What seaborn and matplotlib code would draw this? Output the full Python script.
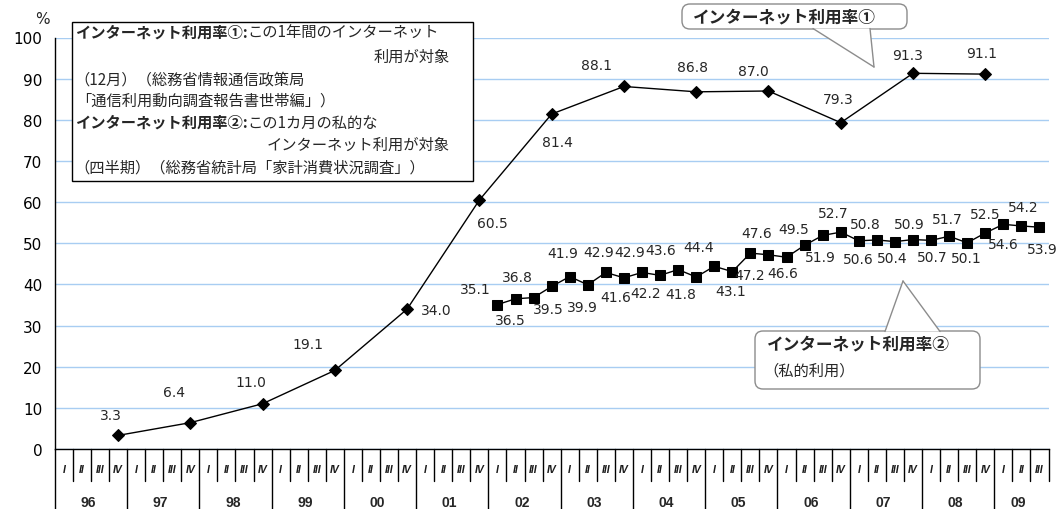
import matplotlib
matplotlib.use("Agg")
import matplotlib.pyplot as plt
import matplotlib.transforms as mtransforms
from matplotlib.patches import FancyBboxPatch, Polygon, Rectangle
import pandas as pd
import seaborn as sns

# データ
years = ["96", "97", "98", "99", "00", "01", "02", "03", "04", "05", "06", "07", "08", "09"]
quarters = ["I", "II", "III", "IV"]
# 利用率① (12月, 96〜08年)
rate1_values = [3.3, 6.4, 11.0, 19.1, 34.0, 60.5, 81.4, 88.1, 86.8, 87.0, 79.3, 91.3, 91.1]
# 利用率② (四半期, 02年I〜09年III)
rate2_values = [35.1, 36.5, 36.8, 39.5, 41.9, 39.9, 42.9, 41.6, 42.9, 42.2, 43.6, 41.8,
                44.4, 43.1, 47.6, 47.2, 46.6, 49.5, 51.9, 52.7, 50.6, 50.8, 50.4, 50.9,
                50.7, 51.7, 50.1, 52.5, 54.6, 54.2, 53.9]

periods = [f"{y}-{q}" for y in years for q in quarters][:55]

df1 = pd.DataFrame({"pos": [periods.index(f"{y}-IV") for y in years[:-1]],
                    "rate": rate1_values})
start2 = periods.index("02-I")
df2 = pd.DataFrame({"pos": list(range(start2, start2 + len(rate2_values))),
                    "rate": rate2_values})

# ラベル位置のずれ (ピクセル, 下向き正)
off1 = [(-7, -20), (-16, -31), (-12, -22), (-27, -26), (29, 1), (13, 23), (6, 28),
        (-27, -21), (-4, -25), (-15, -20), (-2, -24), (-5, -18), (-4, -21)]
off2 = [(-22, -16), (-5, 21), (-16, -21), (-3, 23), (-7, -24), (-5, 22), (-7, -20),
        (-8, 19), (-12, -20), (-14, 18), (-17, -20), (-15, 17), (-16, -19), (-2, 19),
        (6, -20), (-19, 20), (-4, 16), (-11, -16), (-2, 22), (-7, -19), (0, 18),
        (-12, -16), (-3, 16), (-4, -16), (1, 17), (-2, -17), (-1, 15), (0, -19),
        (0, 20), (2, -19), (3, 22)]

sns.set_style("white")
plt.rcParams["font.family"] = ["DejaVu Sans"]
JP = ["Noto Sans CJK JP", "DejaVu Sans"]

W, H = 1062, 510
fig = plt.figure(figsize=(W / 100, H / 100), dpi=100)
ax = fig.add_axes([54.8 / W, 1 - 450 / H, (1048.5 - 54.8) / W, (450 - 38.5) / H])

# ピクセル座標 (左上原点)
px = mtransforms.Affine2D().scale(1 / W, -1 / H).translate(0, 1) + fig.transFigure
xpx = mtransforms.blended_transform_factory(ax.transData, px)

ax.set_xlim(-0.5, 54.5)
ax.set_ylim(0, 100)
ax.set_yticks(range(0, 101, 10))
ax.set_xticks([])
ax.grid(axis="y", color="#a8cdf2", lw=1, zorder=0)
ax.set_axisbelow(True)
for s in ["top", "right"]:
    ax.spines[s].set_visible(False)
for s in ["left", "bottom"]:
    ax.spines[s].set_color("black")
    ax.spines[s].set_linewidth(1)
ax.tick_params(axis="y", direction="out", length=6, width=1, labelsize=11, pad=3,
               colors="black")

sns.lineplot(data=df1, x="pos", y="rate", ax=ax, color="black", lw=1,
             marker="D", markersize=6, markeredgecolor="black", zorder=3)
sns.lineplot(data=df2, x="pos", y="rate", ax=ax, color="black", lw=1,
             marker="s", markersize=6.5, markeredgecolor="black", zorder=3)
ax.set_xlabel("")
ax.set_ylabel("")

for (x, v), (dx, dy) in zip(zip(df1["pos"], df1["rate"]), off1):
    ax.annotate(f"{v:.1f}", xy=(x, v), xytext=(dx, -dy), textcoords="offset pixels",
                ha="center", va="center", fontsize=10)
for (x, v), (dx, dy) in zip(zip(df2["pos"], df2["rate"]), off2):
    ax.annotate(f"{v:.1f}", xy=(x, v), xytext=(dx, -dy), textcoords="offset pixels",
                ha="center", va="center", fontsize=10)

# 横軸の区分 (四半期 / 年)
for k in range(len(periods) + 1):
    b = k - 0.5
    y_end = 510 if k % 4 == 0 and k < len(periods) else 482
    ax.plot([b, b], [450, y_end], transform=xpx, color="black", lw=1, clip_on=False)
for k, p in enumerate(periods):
    ax.text(k, 470, p.split("-")[1], transform=xpx, ha="center", va="center",
            fontsize=7.5, fontweight="bold", fontstyle="italic",
            family="Liberation Sans", color="#1a1a1a")
for y in years:
    idx = [k for k, p in enumerate(periods) if p.startswith(y + "-")]
    ax.text(sum(idx) / len(idx) - 0.15, 503, y, transform=xpx, ha="center",
            va="center", fontsize=10, fontweight="bold", family="Liberation Sans")

ax.text(42, 20, "%", transform=px, ha="center", va="center", fontsize=11)

# 説明の枠
ax.add_patch(Rectangle((72, 23), 401, 159, transform=px, facecolor="white",
                       edgecolor="black", lw=1, zorder=5, clip_on=False))
fs = 11
t1 = ax.text(75, 33, "インターネット利用率①:", transform=px, ha="left", va="center",
             fontsize=fs, fontweight="bold", family=JP, zorder=6)
ax.annotate("この1年間のインターネット", xy=(1, 0.5), xycoords=t1, ha="left",
            va="center", fontsize=fs, family=JP, zorder=6)
ax.text(450, 57, "利用が対象", transform=px, ha="right", va="center", fontsize=fs,
        family=JP, zorder=6)
ax.text(74, 80, "（12月）（総務省情報通信政策局", transform=px, ha="left", va="center",
        fontsize=fs, family=JP, zorder=6)
ax.text(76, 101, "「通信利用動向調査報告書世帯編」）", transform=px, ha="left",
        va="center", fontsize=fs, family=JP, zorder=6)
t2 = ax.text(75, 123, "インターネット利用率②:", transform=px, ha="left", va="center",
             fontsize=fs, fontweight="bold", family=JP, zorder=6)
ax.annotate("この1カ月の私的な", xy=(1, 0.5), xycoords=t2, ha="left",
            va="center", fontsize=fs, family=JP, zorder=6)
ax.text(450, 145, "インターネット利用が対象", transform=px, ha="right", va="center",
        fontsize=fs, family=JP, zorder=6)
ax.text(74, 168, "（四半期）（総務省統計局「家計消費状況調査」）", transform=px,
        ha="left", va="center", fontsize=fs, family=JP, zorder=6)


def callout(x0, y0, x1, y1, base, tip):
    ax.add_patch(FancyBboxPatch((x0, y0), x1 - x0, y1 - y0,
                                boxstyle="round,pad=0,rounding_size=8", transform=px,
                                facecolor="white", edgecolor="#8c8c8c", lw=1,
                                zorder=5, clip_on=False))
    ax.add_patch(Polygon([base[0], base[1], tip], closed=True, transform=px,
                         facecolor="white", edgecolor="none", zorder=5.5,
                         clip_on=False))
    for b in base:
        ax.plot([b[0], tip[0]], [b[1], tip[1]], transform=px, color="#8c8c8c",
                lw=1, zorder=5.6, clip_on=False)


callout(682, 5, 907, 30, [(813, 29.5), (870, 29.5)], (874, 68))
ax.text(693, 17, "インターネット利用率①", transform=px, ha="left", va="center",
        fontsize=12, fontweight="bold", family=JP, zorder=6)

callout(755, 332, 980, 390, [(885, 332.5), (940, 332.5)], (903, 282))
ax.text(767, 344, "インターネット利用率②", transform=px, ha="left", va="center",
        fontsize=12, fontweight="bold", family=JP, zorder=6)
ax.text(763, 371, "（私的利用）", transform=px, ha="left", va="center",
        fontsize=11, family=JP, zorder=6)

fig.savefig("out.png", dpi=100)
